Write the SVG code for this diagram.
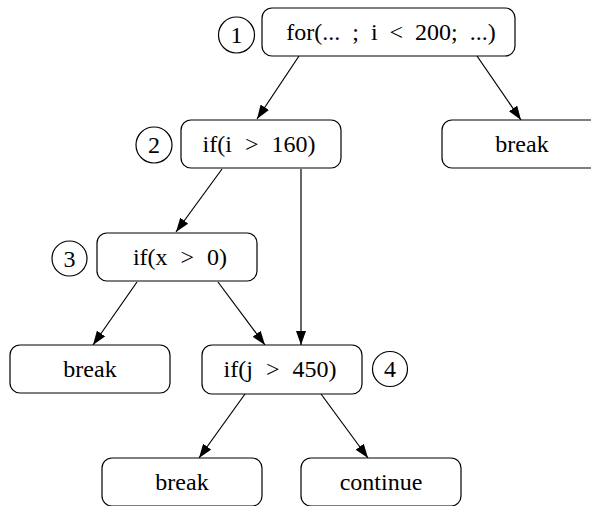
<svg xmlns="http://www.w3.org/2000/svg" width="591" height="506" viewBox="0 0 591 506">
<style>
.box{fill:#fff;stroke:#000;stroke-width:1.2}
.circ{fill:#fff;stroke:#000;stroke-width:1.2}
.lbl{font-family:"Liberation Serif","DejaVu Serif",serif;font-size:24px;fill:#000;text-anchor:middle}
.expr{word-spacing:7px}
.edge{fill:none;stroke:#000;stroke-width:1.2}
</style>
<defs>
<marker id="arr" markerUnits="userSpaceOnUse" markerWidth="14" markerHeight="10" refX="14" refY="5" orient="auto">
<path d="M0,0 L14,5 L0,10 z" fill="#000"/>
</marker>
</defs>
<rect width="591" height="506" fill="#fff"/>
<g id="connectors">
<line class="edge" x1="299" y1="56" x2="257" y2="119" marker-end="url(#arr)"/>
<line class="edge" x1="477" y1="56" x2="521" y2="120" marker-end="url(#arr)"/>
<line class="edge" x1="222" y1="169" x2="176" y2="232" marker-end="url(#arr)"/>
<line class="edge" x1="301" y1="169" x2="301" y2="345" marker-end="url(#arr)"/>
<line class="edge" x1="137" y1="282" x2="93" y2="345" marker-end="url(#arr)"/>
<line class="edge" x1="218" y1="282" x2="265" y2="345" marker-end="url(#arr)"/>
<line class="edge" x1="245" y1="394" x2="199" y2="458" marker-end="url(#arr)"/>
<line class="edge" x1="321" y1="394" x2="368" y2="458" marker-end="url(#arr)"/>
</g>
<g id="n1">
<rect class="box" x="262" y="8" width="253" height="48" rx="10"/>
<text class="lbl" x="391" y="40" style="word-spacing:6px">for(... ; i &lt; 200; ...)</text>
<circle class="circ" cx="236.5" cy="35" r="18"/>
<text class="lbl" x="236.5" y="43">1</text>
</g>
<g id="n2">
<rect class="box" x="181" y="120" width="160" height="48" rx="10"/>
<text class="lbl expr" x="259" y="152">if(i &gt; 160)</text>
<circle class="circ" cx="154" cy="145" r="18"/>
<text class="lbl" x="154" y="153">2</text>
</g>
<g id="n_break_r">
<rect class="box" x="442" y="120" width="160" height="48" rx="10"/>
<text class="lbl" x="522" y="152">break</text>
</g>
<g id="n3">
<rect class="box" x="97" y="233" width="160" height="48" rx="10"/>
<text class="lbl expr" x="180" y="265">if(x &gt; 0)</text>
<circle class="circ" cx="69.5" cy="258.5" r="17.5"/>
<text class="lbl" x="69.5" y="266.5">3</text>
</g>
<g id="n_break_l">
<rect class="box" x="10" y="345" width="160" height="48" rx="10"/>
<text class="lbl" x="90" y="377">break</text>
</g>
<g id="n4">
<rect class="box" x="202" y="345" width="160" height="49" rx="10"/>
<text class="lbl expr" x="280" y="377">if(j &gt; 450)</text>
<circle class="circ" cx="390" cy="369" r="17.5"/>
<text class="lbl" x="390" y="377">4</text>
</g>
<g id="n_break_b">
<rect class="box" x="102" y="458" width="160" height="48" rx="10"/>
<text class="lbl" x="182" y="490">break</text>
</g>
<g id="n_continue">
<rect class="box" x="301" y="458" width="160" height="48" rx="10"/>
<text class="lbl" x="381" y="490">continue</text>
</g>
</svg>
